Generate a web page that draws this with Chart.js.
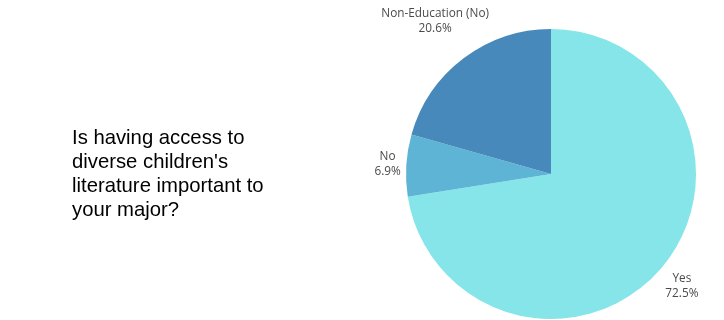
<!DOCTYPE html>
<html>
<head>
<meta charset="utf-8">
<script src="https://cdn.jsdelivr.net/npm/chart.js@4.4.1/dist/chart.umd.min.js"></script>
<style>
  html, body { margin: 0; padding: 0; background: #fff; }
  #wrap { width: 724px; height: 320px; position: relative; }
</style>
</head>
<body>
<div id="wrap"><canvas id="pie"></canvas></div>
<script>
const labels = ['Yes', 'No', 'Non-Education (No)'];
const values = [72.5, 6.9, 20.6];
const colors = ['#85E5E8', '#5EB4D5', '#4689BA'];
const titleLines = ['Is having access to', 'diverse children\'s', 'literature important to', 'your major?'];

// draws the question on the left and the outside labels
const extras = {
    id: 'extras',
    afterDraw(chart) {
        const ctx = chart.ctx;
        ctx.save();
        ctx.fillStyle = '#000';
        ctx.font = '20.3px "Liberation Sans", Arial, sans-serif';
        ctx.textAlign = 'left';
        ctx.textBaseline = 'alphabetic';
        titleLines.forEach((t, i) => ctx.fillText(t, 72, 144 + i * 24));

        ctx.font = '11.8px "Open Sans", sans-serif';
        ctx.fillStyle = '#4a4a4a';
        ctx.textAlign = 'center';
        ctx.textBaseline = 'middle';
        const total = values.reduce((a, b) => a + b, 0);
        chart.getDatasetMeta(0).data.forEach((arc, i) => {
            const mid = (arc.startAngle + arc.endAngle) / 2;
            const c = Math.cos(mid), s = Math.sin(mid);
            const pct = (values[i] / total * 100).toFixed(1) + '%';
            const w = Math.max(ctx.measureText(labels[i]).width, ctx.measureText(pct).width);
            const hw = w / 2, hh = 15;
            const d = arc.outerRadius + 6 + hw * Math.abs(c) * 0.9 + hh * Math.abs(s);
            const x = arc.x + c * d, y = arc.y + s * d;
            ctx.fillText(labels[i], x, y - 7.5);
            ctx.fillText(pct, x, y + 7.5);
        });
        ctx.restore();
    }
};

new Chart(document.getElementById('pie'), {
    type: 'pie',
    data: {
        labels: labels,
        datasets: [{
            data: values,
            backgroundColor: colors,
            borderWidth: 0
        }]
    },
    options: {
        responsive: true,
        maintainAspectRatio: false,
        animation: false,
        layout: { padding: { left: 406, right: 28, top: 29, bottom: 1 } },
        plugins: {
            legend: { display: false },
            tooltip: { enabled: false }
        }
    },
    plugins: [extras]
});
</script>
</body>
</html>
